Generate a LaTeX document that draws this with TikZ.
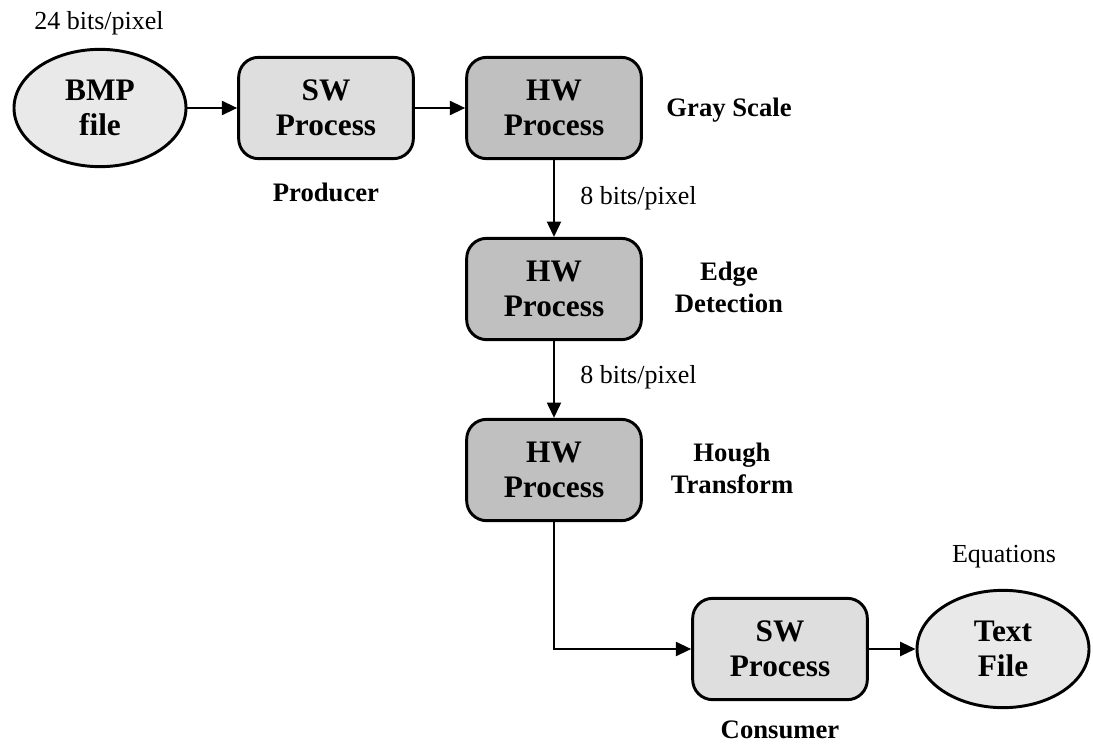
\documentclass[tikz,border=0pt]{standalone}
\usepackage{fontspec}
\setmainfont{Liberation Serif}
\usetikzlibrary{arrows.meta,shapes.geometric}

\definecolor{swfill}{HTML}{DEDEDE}
\definecolor{hwfill}{HTML}{C0C0C0}
\definecolor{filefill}{HTML}{E9E9E9}

\tikzset{
  procbox/.style={draw=black, line width=2.2pt, rounded corners=15pt,
    minimum width=131pt, minimum height=76pt, inner sep=0pt,
    align=center, font=\fontsize{23.5}{26}\selectfont\bfseries},
  swbox/.style={procbox, fill=swfill},
  hwbox/.style={procbox, fill=hwfill},
  datafile/.style={draw=black, line width=2.2pt, ellipse, fill=filefill,
    minimum width=129pt, minimum height=88pt, inner sep=0pt,
    align=center, font=\fontsize{23.5}{26}\selectfont\bfseries},
  steplabel/.style={align=center, inner sep=0pt,
    font=\fontsize{20}{24}\selectfont\bfseries},
  ratelabel/.style={inner sep=0pt, font=\fontsize{19.5}{22}\selectfont},
  flow/.style={line width=1.6pt, -{Triangle[length=11.5pt,width=10.5pt]}}
}

\begin{document}
\begin{tikzpicture}[x=0.75pt, y=-0.75pt]
  \useasboundingbox (0,0) rectangle (1093,746);

  % stores and processes
  \node[datafile] (bmp)  at (100,108)   {BMP\\file};
  \node[swbox]    (prod) at (326,108)   {SW\\Process};
  \node[hwbox]    (gray) at (554,108)   {HW\\Process};
  \node[hwbox]    (edge) at (554,289)   {HW\\Process};
  \node[hwbox]    (hough) at (554,470)  {HW\\Process};
  \node[swbox]    (cons) at (780,649)   {SW\\Process};
  \node[datafile] (txt)  at (1003,649)  {Text\\File};

  % captions
  \node[ratelabel] (r24) at (99,23)   {24 bits/pixel};
  \node[steplabel] (lprod) at (326,192) {Producer};
  \node[steplabel] (lgray) at (729,110) {Gray Scale};
  \node[steplabel] (ledge) at (729,287) {Edge\\Detection};
  \node[steplabel] (lhough) at (732,468) {Hough\\Transform};
  \node[steplabel] (lcons) at (780,730) {Consumer};
  \node[ratelabel] (req) at (1004,557)  {Equations};
  \node[ratelabel, anchor=west] (r8a) at (580,198) {8 bits/pixel};
  \node[ratelabel, anchor=west] (r8b) at (580,377) {8 bits/pixel};

  % data flow
  \draw[flow] (bmp.east) -- (prod.west);
  \draw[flow] (prod.east) -- (gray.west);
  \draw[flow] (gray.south) -- (edge.north);
  \draw[flow] (edge.south) -- (hough.north);
  \draw[flow] (hough.south) |- (cons.west);
  \draw[flow] (cons.east) -- (txt.west);
\end{tikzpicture}
\end{document}
